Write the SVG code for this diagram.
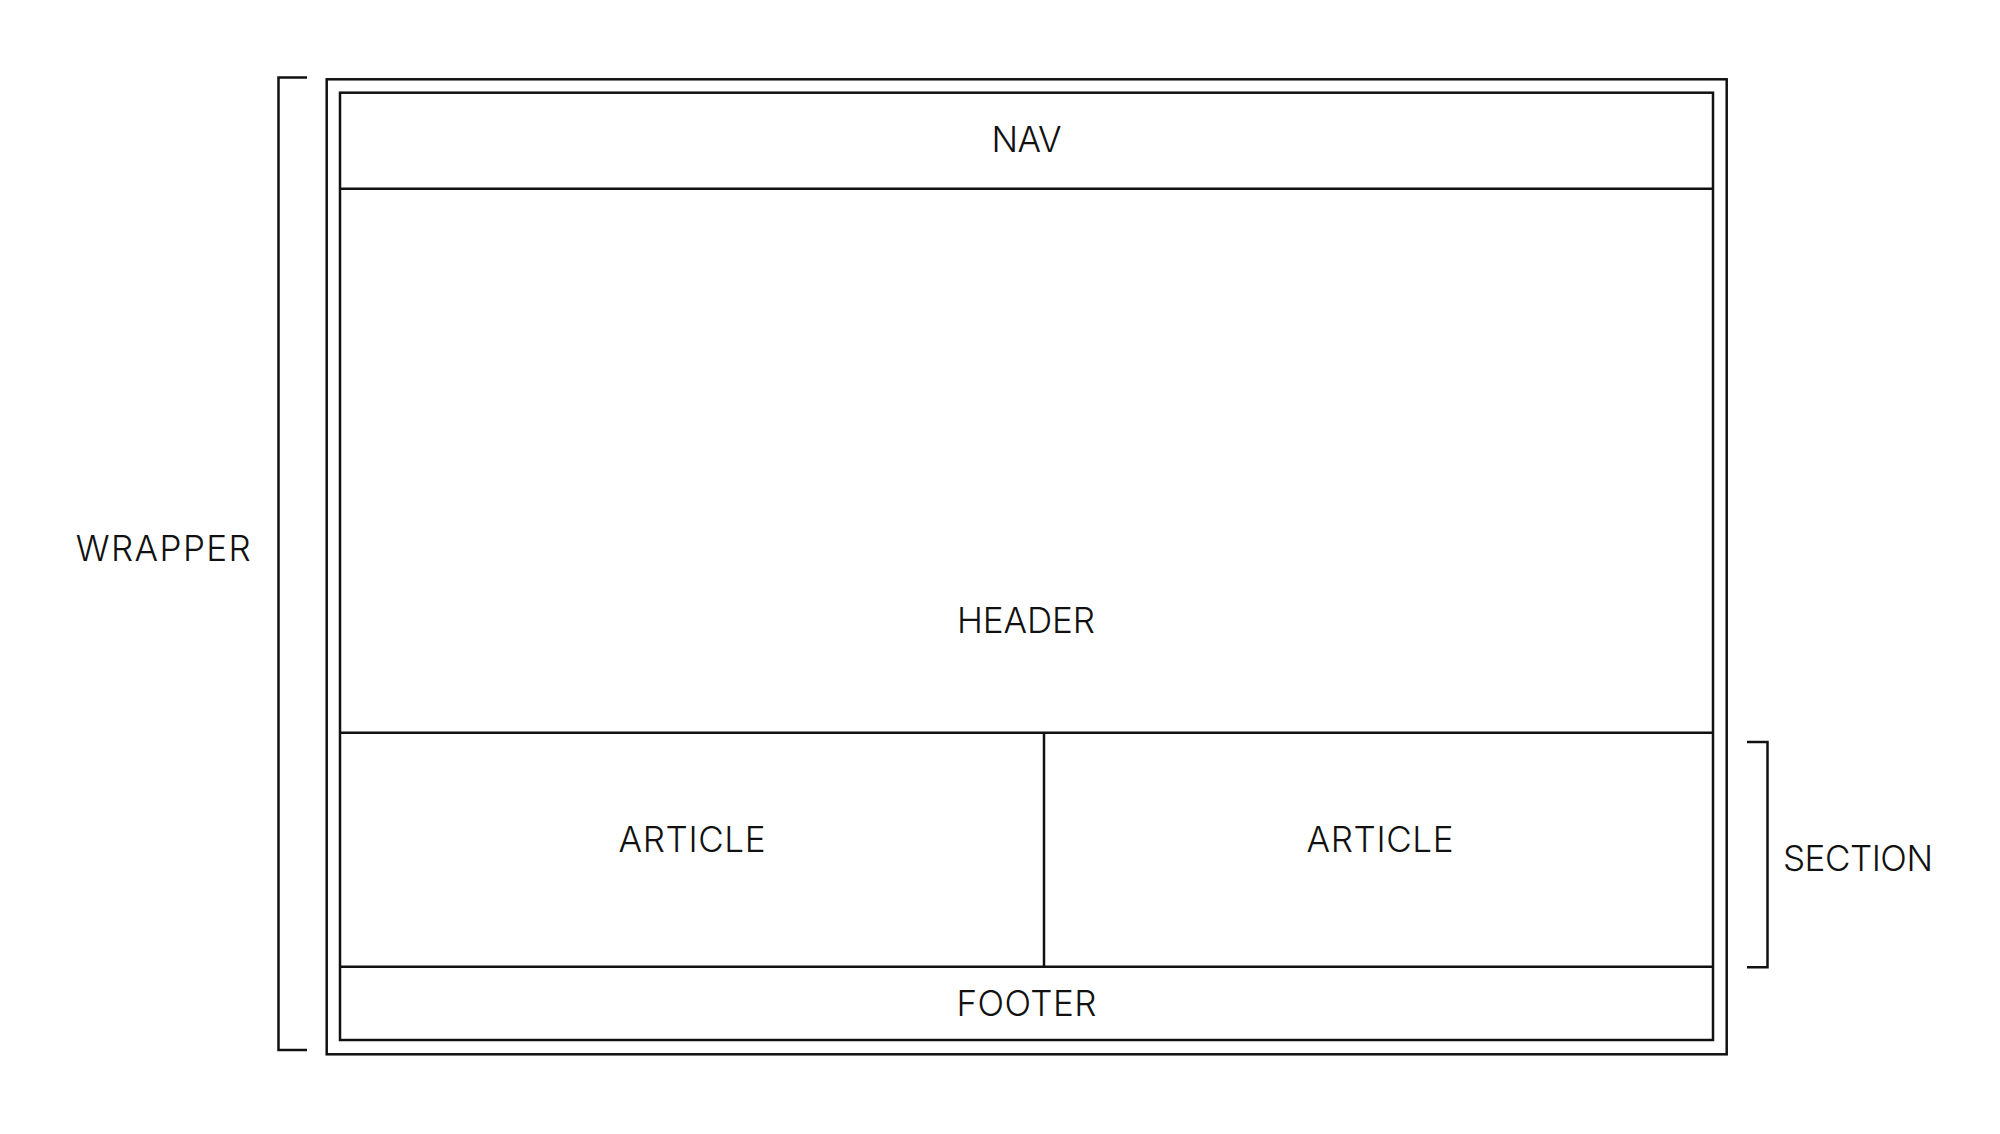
<svg xmlns="http://www.w3.org/2000/svg" width="2000" height="1134" viewBox="0 0 2000 1134">
<style>
.ln{fill:none;stroke:#111;stroke-width:2.5}
.t{font-family:Inter,"Liberation Sans","Noto Sans",Arial,sans-serif;font-weight:300;font-size:35px;fill:#111;text-anchor:middle}
</style>
<rect width="2000" height="1134" fill="#fff"/>
<g id="wrapper">
<rect class="ln" x="326.7" y="79.3" width="1400" height="975"/>
<rect class="ln" x="340" y="92.7" width="1373" height="947.3"/>
</g>
<g id="nav">
<text class="t" x="1026.5" y="151.7" textLength="70" lengthAdjust="spacing">NAV</text>
</g>
<g id="header">
<text class="t" x="1026" y="633.3" textLength="138" lengthAdjust="spacing">HEADER</text>
</g>
<g id="article1">
<text class="t" x="692" y="851.5" textLength="147" lengthAdjust="spacing">ARTICLE</text>
</g>
<g id="article2">
<text class="t" x="1380" y="851.5" textLength="147" lengthAdjust="spacing">ARTICLE</text>
</g>
<g id="footer">
<text class="t" x="1026.5" y="1016" textLength="140" lengthAdjust="spacing">FOOTER</text>
</g>
<g id="wrapper-label">
<path class="ln" d="M307 77.5 H278.5 V1050 H307"/>
<text class="t" x="163.3" y="561" textLength="175" lengthAdjust="spacing">WRAPPER</text>
</g>
<g id="section-label">
<path class="ln" d="M1747 742 H1767.5 V967.3 H1747"/>
<text class="t" x="1858" y="870.7" textLength="150" lengthAdjust="spacing">SECTION</text>
</g>
<g id="connectors">
<line class="ln" x1="340" y1="188.7" x2="1713" y2="188.7"/>
<line class="ln" x1="340" y1="732.7" x2="1713" y2="732.7"/>
<line class="ln" x1="340" y1="966.7" x2="1713" y2="966.7"/>
<line class="ln" x1="1044" y1="732.7" x2="1044" y2="966.7"/>
</g>
</svg>
